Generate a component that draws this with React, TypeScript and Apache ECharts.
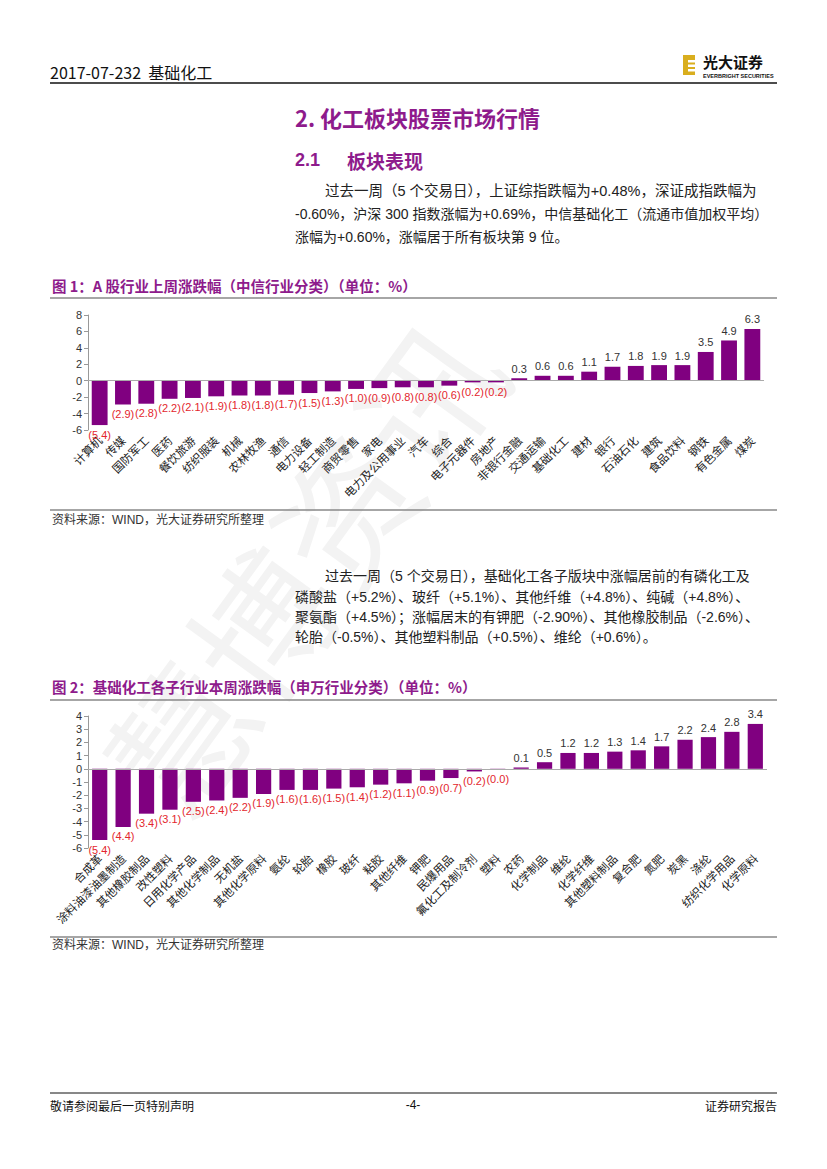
import React, { useEffect, useRef } from "react";
import * as echarts from "echarts";

const chart1Categories = [
  "计算机", "传媒", "国防军工", "医药", "餐饮旅游", "纺织服装", "机械", "农林牧渔", "通信", "电力设备",
  "轻工制造", "商贸零售", "家电", "电力及公用事业", "汽车", "综合", "电子元器件", "房地产", "非银行金融", "交通运输",
  "基础化工", "建材", "银行", "石油石化", "建筑", "食品饮料", "钢铁", "有色金属", "煤炭",
];
const chart1Values = [
  -5.4, -2.9, -2.8, -2.2, -2.1, -1.9, -1.8, -1.8, -1.7, -1.5,
  -1.3, -1.0, -0.9, -0.8, -0.8, -0.6, -0.2, -0.2, 0.3, 0.6,
  0.6, 1.1, 1.7, 1.8, 1.9, 1.9, 3.5, 4.9, 6.3,
];
const chart1YMin = -6;
const chart1YMax = 8;
const chart1YStep = 2;

const chart2Categories = [
  "合成革", "涂料油漆油墨制造", "其他橡胶制品", "改性塑料", "日用化学产品", "其他化学制品", "无机盐", "其他化学原料", "氨纶", "轮胎",
  "橡胶", "玻纤", "粘胶", "其他纤维", "钾肥", "民爆用品", "氟化工及制冷剂", "塑料", "农药", "化学制品",
  "维纶", "化学纤维", "其他塑料制品", "复合肥", "氮肥", "炭黑", "涤纶", "纺织化学用品", "化学原料",
];
const chart2Values = [
  -5.4, -4.4, -3.4, -3.1, -2.5, -2.4, -2.2, -1.9, -1.6, -1.6,
  -1.5, -1.4, -1.2, -1.1, -0.9, -0.7, -0.2, -0.02, 0.1, 0.5,
  1.2, 1.2, 1.3, 1.4, 1.7, 2.2, 2.4, 2.8, 3.4,
];
const chart2YMin = -6;
const chart2YMax = 4;
const chart2YStep = 1;

const headerText = "2017-07-232  基础化工";
const sectionTitle = "2. 化工板块股票市场行情";
const subTitleNum = "2.1";
const subTitleText = "板块表现";
const para1 = [
  "过去一周（5 个交易日），上证综指跌幅为+0.48%，深证成指跌幅为",
  "-0.60%，沪深 300 指数涨幅为+0.69%，中信基础化工（流通市值加权平均）",
  "涨幅为+0.60%，涨幅居于所有板块第 9 位。",
];
const para2 = [
  "过去一周（5 个交易日），基础化工各子版块中涨幅居前的有磷化工及",
  "磷酸盐（+5.2%）、玻纤（+5.1%）、其他纤维（+4.8%）、纯碱（+4.8%）、",
  "聚氨酯（+4.5%）；涨幅居末的有钾肥（-2.90%）、其他橡胶制品（-2.6%）、",
  "轮胎（-0.5%）、其他塑料制品（+0.5%）、维纶（+0.6%）。",
];
const fig1Title = "图 1：A 股行业上周涨跌幅（中信行业分类）（单位：%）";
const fig2Title = "图 2：基础化工各子行业本周涨跌幅（申万行业分类）（单位：%）";
const sourceText = "资料来源：WIND，光大证券研究所整理";
const footerLeft = "敬请参阅最后一页特别声明";
const footerMid = "-4-";
const footerRight = "证券研究报告";

const PURPLE = "#800080";
const TITLE_PURPLE = "#8E1B8C";
const NEG_RED = "#E3262D";
const FONT = "'Liberation Sans', 'Noto Sans CJK SC', sans-serif";
const CJK = "'Noto Sans CJK SC', 'Liberation Sans', sans-serif";

function barData(values: number[]) {
  return values.map((v) => ({
    value: v,
    label: {
      position: v < 0 ? "bottom" : "top",
      color: v < 0 ? NEG_RED : "#333",
    },
  }));
}

function fmt(p: any) {
  const v = p.value as number;
  return v < 0 ? `(${(-v).toFixed(1)})` : v.toFixed(1);
}

function txt(text: string, x: number, y: number, size: number, opts: any = {}) {
  return {
    type: "text",
    x,
    y,
    z: 10,
    style: {
      text,
      fontSize: size,
      fontFamily: opts.family || FONT,
      fontWeight: opts.weight || "normal",
      fill: opts.fill || "#222",
      textAlign: opts.align || "left",
      textVerticalAlign: "middle",
    },
  };
}

function hline(x1: number, x2: number, y: number, color: string, w: number) {
  return {
    type: "line",
    z: 10,
    shape: { x1, y1: y, x2, y2: y },
    style: { stroke: color, lineWidth: w },
  };
}

export default function App() {
  const ref = useRef<HTMLDivElement>(null);

  useEffect(() => {
    if (!ref.current) return;
    const chart = echarts.init(ref.current, null, { renderer: "svg" });

    const graphics: any[] = [
      // faint watermark
      {
        type: "text",
        x: 300,
        y: 565,
        rotation: (54 * Math.PI) / 180,
        z: 0,
        style: {
          text: "慧博资讯",
          fontSize: 140,
          fontFamily: CJK,
          fill: "#f3f3f3",
          textAlign: "center",
          textVerticalAlign: "middle",
        },
      },
      // header
      txt(headerText, 50, 72, 16, { family: CJK, fill: "#111" }),
      hline(50, 777, 83, "#111", 1.5),
      // logo
      { type: "rect", z: 10, shape: { x: 683, y: 55, width: 12, height: 20 }, style: { fill: "#D9AE1E" } },
      { type: "rect", z: 11, shape: { x: 688, y: 60, width: 7, height: 2.5 }, style: { fill: "#fff" } },
      { type: "rect", z: 11, shape: { x: 688, y: 64.5, width: 7, height: 2.5 }, style: { fill: "#fff" } },
      { type: "rect", z: 11, shape: { x: 688, y: 69, width: 7, height: 2.5 }, style: { fill: "#fff" } },
      txt("光大证券", 703, 61, 15, { family: CJK, weight: "bold", fill: "#111" }),
      txt("EVERBRIGHT SECURITIES", 703, 75.5, 5.5, { weight: "bold", fill: "#111" }),
      // section titles
      txt(sectionTitle, 295, 117, 22, { family: CJK, weight: "bold", fill: TITLE_PURPLE }),
      txt(subTitleNum, 295, 160, 18, { weight: "bold", fill: TITLE_PURPLE }),
      txt(subTitleText, 347, 160, 19, { family: CJK, weight: "bold", fill: TITLE_PURPLE }),
      // paragraph 1
      txt(para1[0], 325, 191, 14.5),
      txt(para1[1], 295, 214, 14),
      txt(para1[2], 295, 237, 14),
      // figure 1
      txt(fig1Title, 52, 285, 14.5, { family: CJK, weight: "bold", fill: TITLE_PURPLE }),
      hline(50, 777, 298, "#888", 1.5),
      hline(50, 777, 510, "#888", 1.5),
      txt(sourceText, 52, 520, 12, { fill: "#333" }),
      // paragraph 2
      txt(para2[0], 325, 576, 14),
      txt(para2[1], 295, 597, 14),
      txt(para2[2], 295, 617, 14),
      txt(para2[3], 295, 637, 14),
      // figure 2
      txt(fig2Title, 52, 686, 14.5, { family: CJK, weight: "bold", fill: TITLE_PURPLE }),
      hline(50, 777, 700, "#888", 1.5),
      hline(50, 777, 937, "#888", 1.5),
      txt(sourceText, 52, 945, 12, { fill: "#333" }),
      // footer
      hline(50, 777, 1093, "#111", 1),
      txt(footerLeft, 50, 1105, 12, { family: CJK, fill: "#111" }),
      txt(footerMid, 413, 1105, 12, { fill: "#111", align: "center" }),
      txt(footerRight, 777, 1105, 12, { family: CJK, fill: "#111", align: "right" }),
    ];

    const yAxisCommon = {
      type: "value",
      axisLine: { show: true, lineStyle: { color: "#999", width: 1 } },
      axisTick: { show: true, length: 4, lineStyle: { color: "#999" } },
      axisLabel: { fontSize: 11, color: "#333", fontFamily: FONT, margin: 6 },
      splitLine: { show: false },
    };
    const xAxisCommon = {
      type: "category",
      axisLine: { show: false },
      axisTick: { show: false },
      axisLabel: {
        rotate: 45,
        interval: 0,
        fontSize: 11.5,
        color: "#222",
        fontFamily: CJK,
        margin: 8,
      },
    };
    const zeroLine = {
      silent: true,
      symbol: ["none", "none"],
      label: { show: false },
      lineStyle: { color: "#aaa", type: "solid", width: 1.2 },
      data: [{ yAxis: 0 }],
    };
    const barLabel = {
      show: true,
      fontSize: 11,
      fontFamily: FONT,
      distance: 4,
      formatter: fmt,
    };

    chart.setOption({
      animation: false,
      backgroundColor: "#fff",
      graphic: graphics,
      grid: [
        { left: 88, top: 315, width: 676, height: 115 },
        { left: 88, top: 716, width: 679, height: 132 },
      ],
      xAxis: [
        { ...xAxisCommon, gridIndex: 0, data: chart1Categories },
        { ...xAxisCommon, gridIndex: 1, data: chart2Categories },
      ],
      yAxis: [
        { ...yAxisCommon, gridIndex: 0, min: chart1YMin, max: chart1YMax, interval: chart1YStep },
        { ...yAxisCommon, gridIndex: 1, min: chart2YMin, max: chart2YMax, interval: chart2YStep },
      ],
      series: [
        {
          type: "bar",
          xAxisIndex: 0,
          yAxisIndex: 0,
          data: barData(chart1Values),
          barWidth: "68%",
          itemStyle: { color: PURPLE },
          label: barLabel,
          markLine: zeroLine,
        },
        {
          type: "bar",
          xAxisIndex: 1,
          yAxisIndex: 1,
          data: barData(chart2Values),
          barWidth: "65%",
          itemStyle: { color: PURPLE },
          label: barLabel,
          markLine: zeroLine,
        },
      ],
    });

    return () => chart.dispose();
  }, []);

  return (
    <div
      ref={ref}
      style={{ position: "absolute", left: 0, top: 0, width: 827, height: 1169 }}
    />
  );
}
